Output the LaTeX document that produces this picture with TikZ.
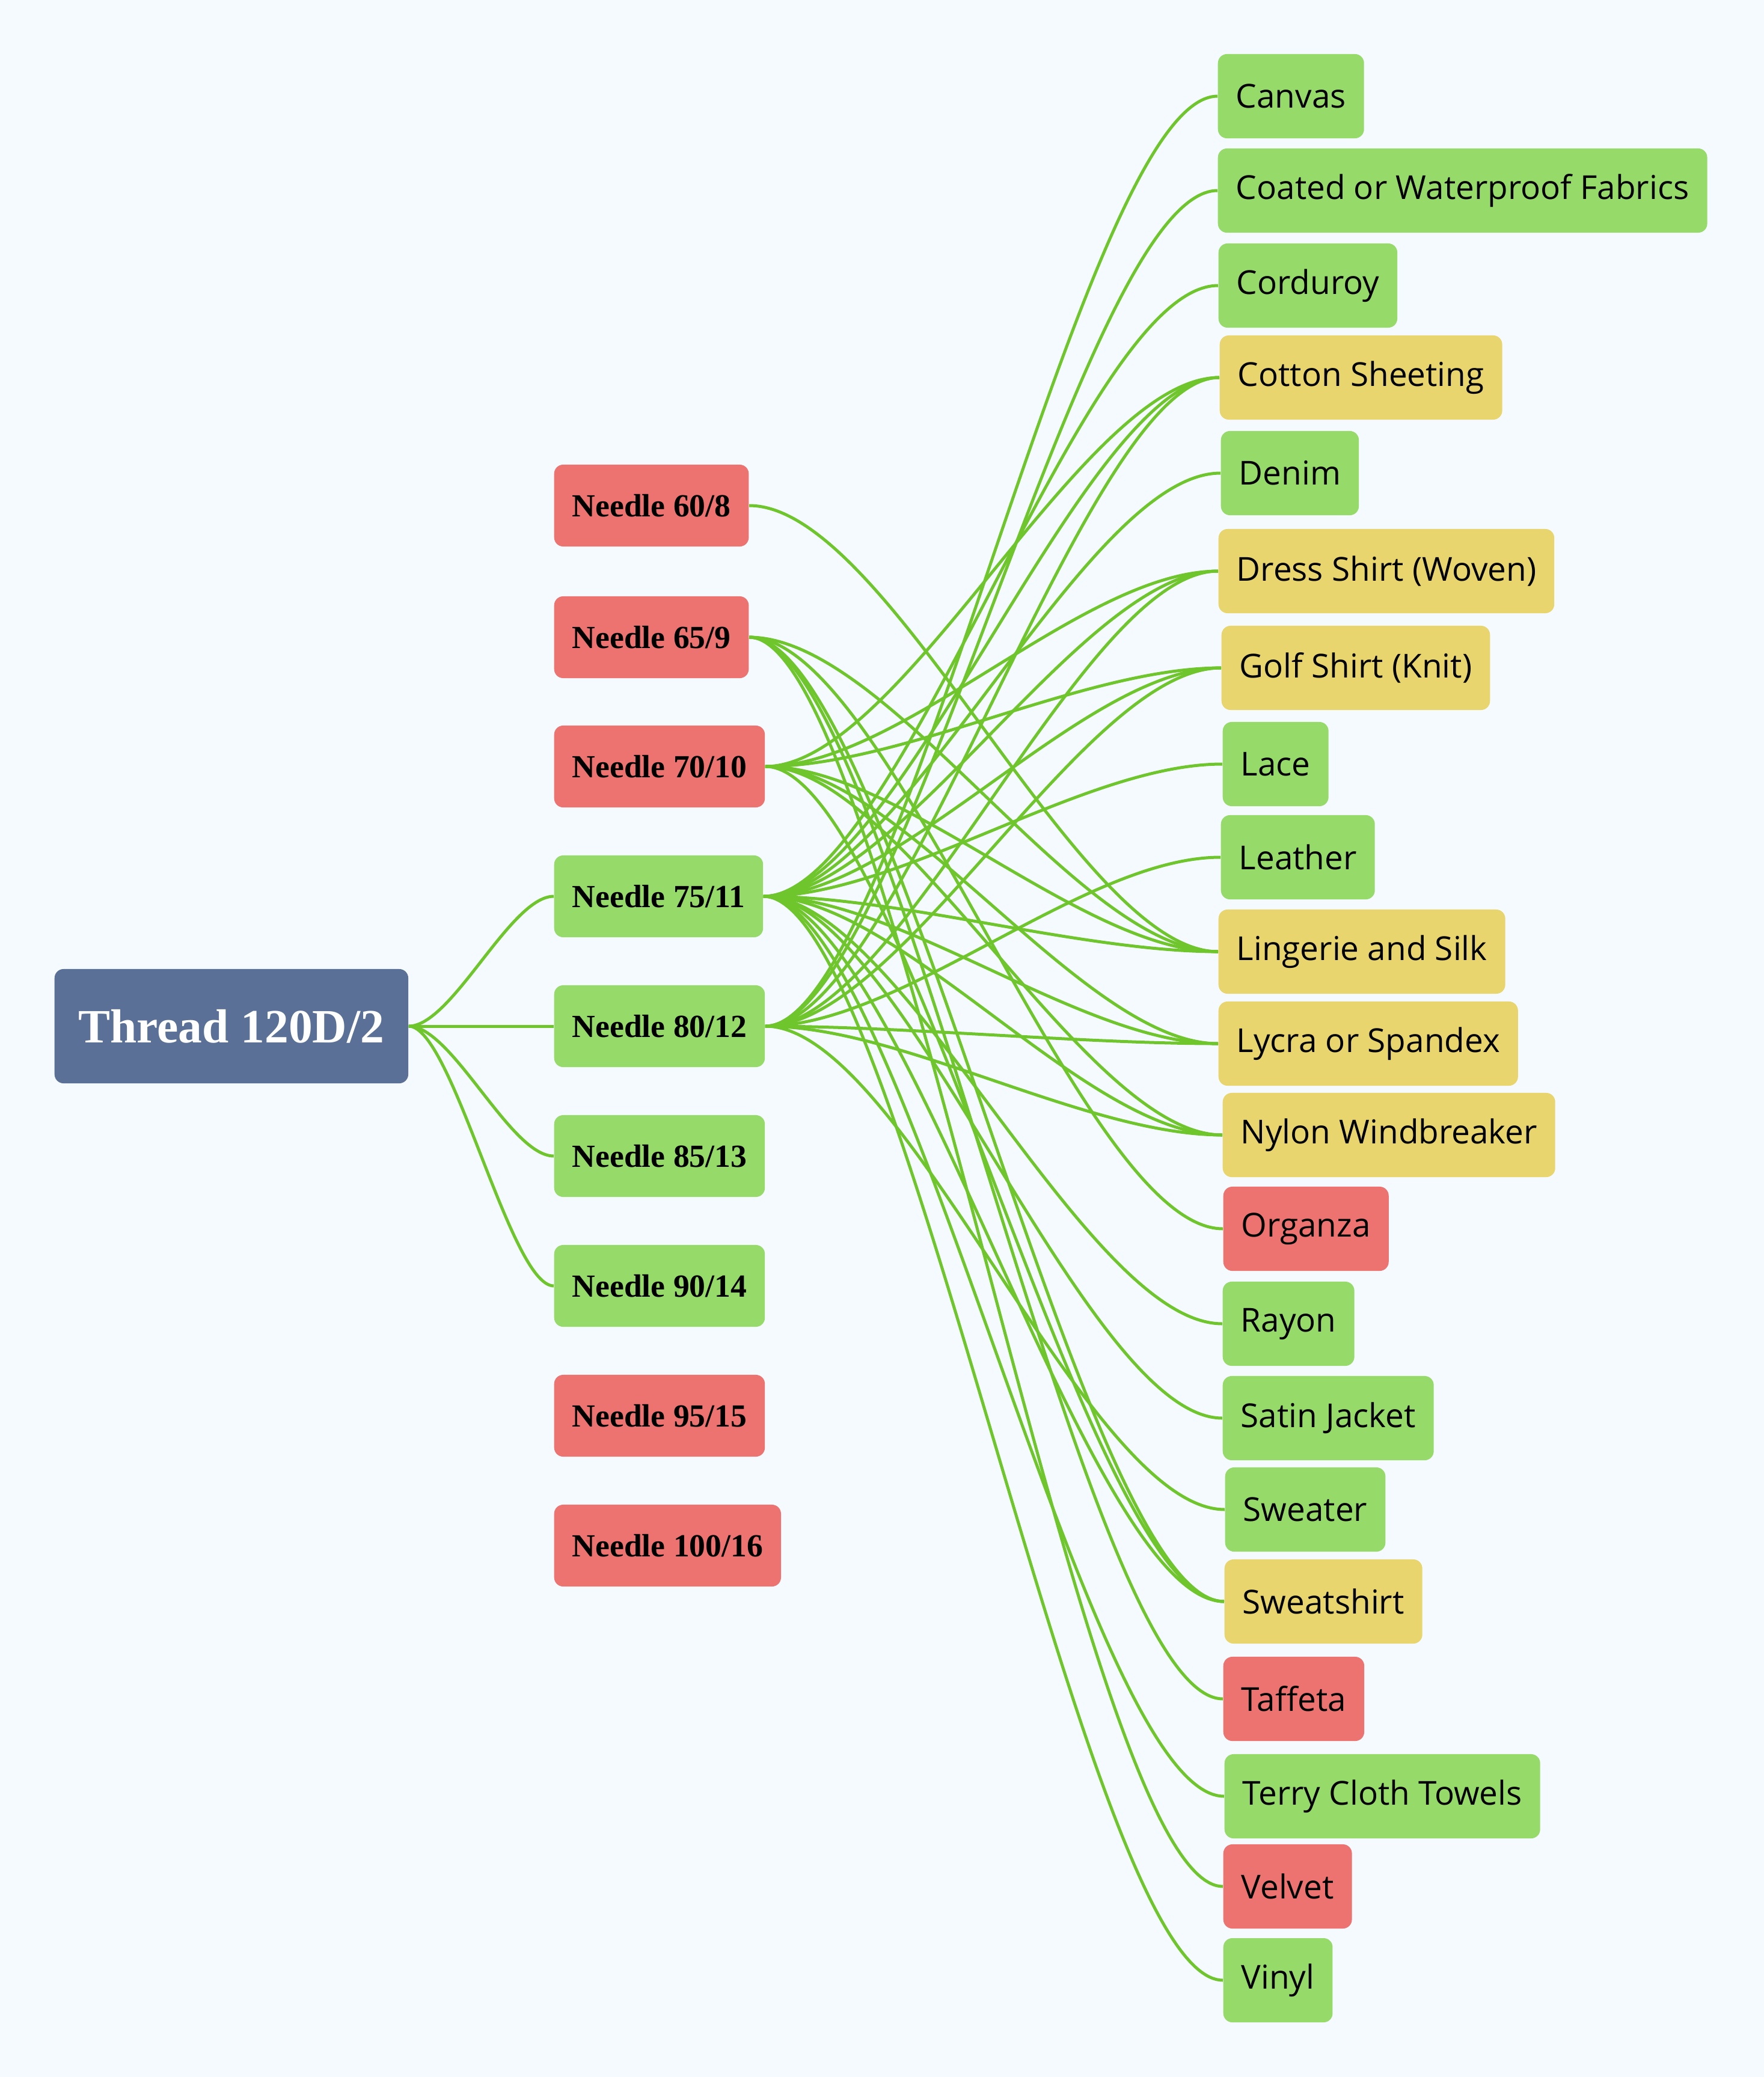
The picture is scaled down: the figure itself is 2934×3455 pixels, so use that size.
\documentclass[tikz,border=0pt]{standalone}
\usepackage{fontspec}
\setmainfont{Liberation Serif}
\newfontfamily\fabfont{Open Sans}
\usetikzlibrary{calc,backgrounds}
\definecolor{bgc}{RGB}{245,250,254}
\definecolor{rootc}{RGB}{90,112,150}
\definecolor{redc}{RGB}{236,115,112}
\definecolor{greenc}{RGB}{150,218,106}
\definecolor{yellowc}{RGB}{232,213,110}
\definecolor{linkc}{RGB}{110,198,44}
\tikzset{
  box/.style={rounded corners=0.15cm, inner xsep=0.3cm, inner ysep=0pt, anchor=west},
  rootbox/.style={box, fill=rootc, text=white, minimum height=1.9cm, minimum width=5.88cm,
    font=\bfseries\fontsize{22.6pt}{26pt}\selectfont},
  needle/.style={box, minimum height=1.36cm, font=\bfseries\fontsize{15.25pt}{18pt}\selectfont},
  fabric/.style={box, minimum height=1.4cm, font=\fabfont\fontsize{15.6pt}{19pt}\selectfont},
  rd/.style={fill=redc},
  gr/.style={fill=greenc},
  yl/.style={fill=yellowc},
  link/.style={draw=linkc, line width=0.05cm,
    to path={let \p1=(\tikztostart), \p2=(\tikztotarget),
      \p3=({\x1+0.3*(\x2-\x1)},\y1), \p4=({\x2-0.3*(\x2-\x1)},\y2) in
      .. controls (\p3) and (\p4) .. (\tikztotarget)}}
}
\begin{document}
\begin{tikzpicture}[x=0.01cm, y=-0.01cm]
\useasboundingbox (0,0) rectangle (2934,3455);
% root
\node[rootbox] (root) at (90,1707) {Thread 120D/2};
% needles
\node[needle, rd] (n60) at (921,841) {Needle 60/8};
\node[needle, rd] (n65) at (921,1060) {Needle 65/9};
\node[needle, rd] (n70) at (921,1275) {Needle 70/10};
\node[needle, gr] (n75) at (921,1491) {Needle 75/11};
\node[needle, gr] (n80) at (921,1707) {Needle 80/12};
\node[needle, gr] (n85) at (921,1923) {Needle 85/13};
\node[needle, gr] (n90) at (921,2139) {Needle 90/14};
\node[needle, rd] (n95) at (921,2355) {Needle 95/15};
\node[needle, rd] (n100) at (921,2571) {Needle 100/16};
% fabrics
\node[fabric, gr] (canvas) at (2025,160) {Canvas};
\node[fabric, gr] (coated) at (2025,317) {Coated or Waterproof Fabrics};
\node[fabric, gr] (corduroy) at (2026,475) {Corduroy};
\node[fabric, yl] (cotton) at (2028,628) {Cotton Sheeting};
\node[fabric, gr] (denim) at (2030,787) {Denim};
\node[fabric, yl] (dress) at (2026,950) {Dress Shirt (Woven)};
\node[fabric, yl] (golf) at (2031,1111) {Golf Shirt (Knit)};
\node[fabric, gr] (lace) at (2033,1271) {Lace};
\node[fabric, gr] (leather) at (2030,1426) {Leather};
\node[fabric, yl] (lingerie) at (2026,1583) {Lingerie and Silk};
\node[fabric, yl] (lycra) at (2026,1736) {Lycra or Spandex};
\node[fabric, yl] (nylon) at (2033,1888) {Nylon Windbreaker};
\node[fabric, rd] (organza) at (2034,2044) {Organza};
\node[fabric, gr] (rayon) at (2033,2202) {Rayon};
\node[fabric, gr] (satin) at (2033,2359) {Satin Jacket};
\node[fabric, gr] (sweater) at (2037,2511) {Sweater};
\node[fabric, yl] (sweatshirt) at (2036,2664) {Sweatshirt};
\node[fabric, rd] (taffeta) at (2034,2826) {Taffeta};
\node[fabric, gr] (terry) at (2036,2988) {Terry Cloth Towels};
\node[fabric, rd] (velvet) at (2034,3138) {Velvet};
\node[fabric, gr] (vinyl) at (2034,3294) {Vinyl};
\begin{pgfonlayer}{background}
\fill[bgc] (0,0) rectangle (2934,3455);
\foreach \t in {n75,n80,n85,n90}
  \draw[link] (root.east) to (\t.west);
\foreach \s/\t in {n60/lingerie,
  n65/lingerie, n65/organza, n65/taffeta, n65/velvet, n65/sweatshirt,
  n70/cotton, n70/dress, n70/golf, n70/lingerie, n70/lycra, n70/nylon, n70/sweatshirt,
  n75/corduroy, n75/denim, n75/cotton, n75/dress, n75/golf, n75/lace, n75/lingerie,
  n75/lycra, n75/nylon, n75/rayon, n75/satin, n75/sweatshirt, n75/terry, n75/vinyl,
  n80/canvas, n80/coated, n80/cotton, n80/dress, n80/golf, n80/leather, n80/lycra,
  n80/nylon, n80/sweater}
  \draw[link] (\s.east) to (\t.west);
\end{pgfonlayer}
\end{tikzpicture}
\end{document}
